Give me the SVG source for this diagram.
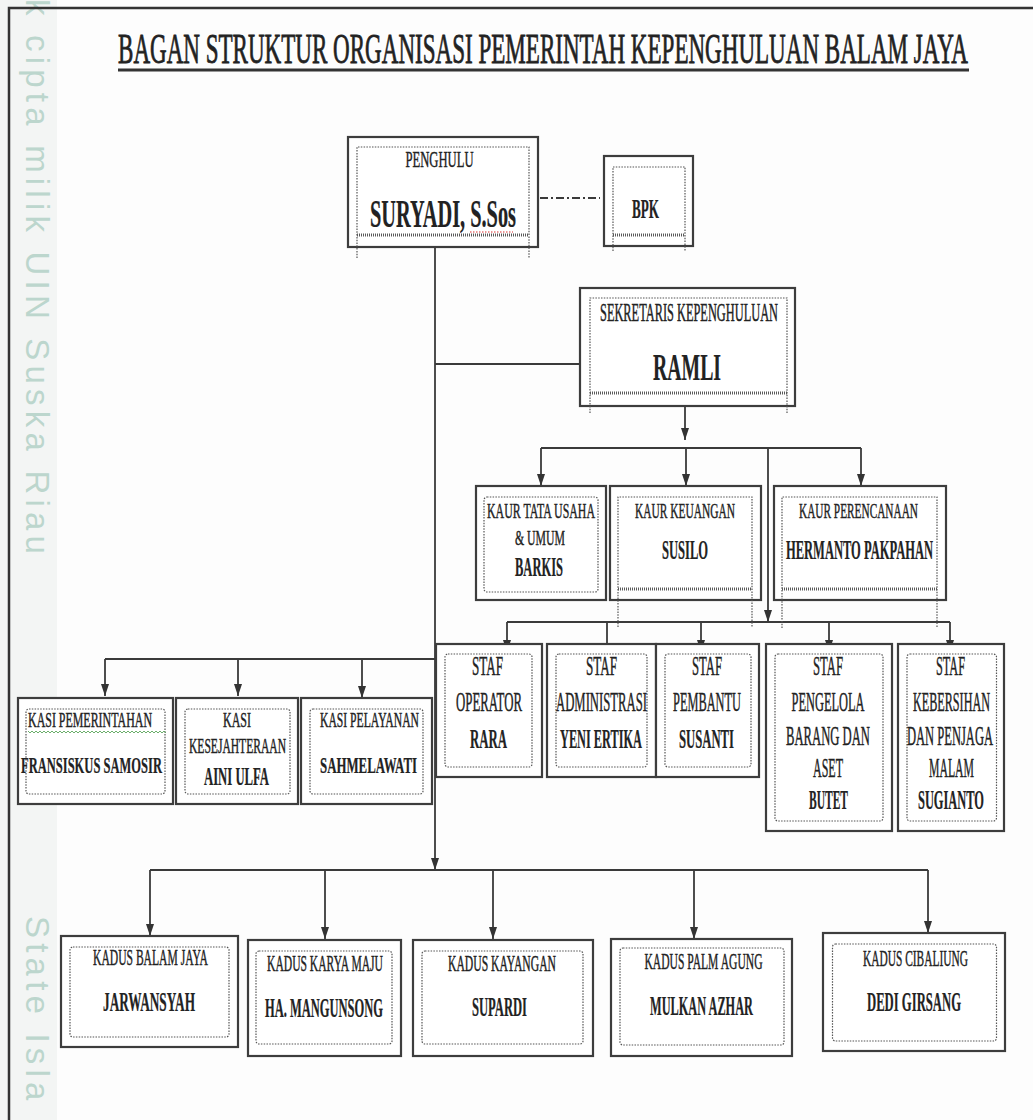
<svg xmlns="http://www.w3.org/2000/svg" width="1033" height="1120" viewBox="0 0 1033 1120">
<defs>
<marker id="ah" viewBox="0 0 12 8" refX="12" refY="4" markerWidth="12" markerHeight="8" orient="auto" markerUnits="userSpaceOnUse"><path d="M0,0 L12,4 L0,8 z" fill="#333"/></marker>
<style>
.ob{fill:#fff;stroke:#3d3d3d;stroke-width:2.2}
.ib{fill:none;stroke:#555;stroke-width:1.2;stroke-dasharray:1.5 1.3}
.dl{fill:none;stroke:#555;stroke-width:1.2;stroke-dasharray:1.5 1.3}
.hb{fill:none;stroke:#5a5a5a;stroke-width:3;stroke-dasharray:1 1}
.cn{fill:none;stroke:#3a3a3a;stroke-width:1.8}
.ar{marker-end:url(#ah)}
text{font-family:"Liberation Serif","Times New Roman",serif;fill:#222;stroke:#222;stroke-width:0.45px;text-anchor:middle}
.t{font-size:22px}
.s{font-size:21px}
.k{font-size:23px}
.f{font-size:27px}
.n{font-weight:bold;stroke-width:0.25px}
.wm{font-family:"Liberation Sans",Arial,sans-serif;fill:#bcd6cd;stroke:none;font-size:33px;text-anchor:start;letter-spacing:5.2px}
</style>
</defs>
<rect x="0" y="0" width="1033" height="1120" fill="#fdfdfd"/>
<rect x="0" y="0" width="57" height="1120" fill="#f3f5f4"/>
<text class="wm" transform="translate(26,-1) rotate(90)" x="0" y="0">k cipta milik UIN Suska Riau</text>
<text class="wm" transform="translate(26,916) rotate(90)" x="0" y="0">State Isla</text>
<path d="M9,1120 V8 H1033" fill="none" stroke="#333" stroke-width="2.5"/>

<g id="title">
<text transform="translate(543,63) scale(0.5,1)" style="font-size:42px;stroke-width:0.8px" textLength="1700" lengthAdjust="spacingAndGlyphs">BAGAN STRUKTUR ORGANISASI PEMERINTAH KEPENGHULUAN BALAM JAYA</text>
<line x1="118" y1="70" x2="969" y2="70" stroke="#333" stroke-width="3"/>
</g>

<g id="connectors">
<path class="cn" d="M540,198 H600" stroke-dasharray="8 3 2 3"/>
<path class="cn ar" d="M435,247 V870"/>
<path class="cn" d="M435,364 H580"/>
<path class="cn ar" d="M685,406 V440"/>
<path class="cn" d="M541,448 H861"/>
<path class="cn ar" d="M541,448 V486"/>
<path class="cn ar" d="M686,448 V486"/>
<path class="cn ar" d="M861,448 V486"/>
<path class="cn ar" d="M768,448 V622"/>
<path class="cn" d="M507,622 H950"/>
<path class="cn ar" d="M507,622 V652"/>
<path class="cn ar" d="M607,622 V656"/>
<path class="cn ar" d="M701,622 V652"/>
<path class="cn ar" d="M829,622 V652"/>
<path class="cn ar" d="M950,622 V652"/>
<path class="cn" d="M105,659 H435"/>
<path class="cn ar" d="M105,659 V696"/>
<path class="cn ar" d="M238,659 V696"/>
<path class="cn ar" d="M362,659 V698"/>
<path class="cn" d="M150,870 H928"/>
<path class="cn ar" d="M150,870 V936"/>
<path class="cn ar" d="M325,870 V939"/>
<path class="cn ar" d="M493,870 V939"/>
<path class="cn ar" d="M694,870 V939"/>
<path class="cn ar" d="M928,870 V933"/>
</g>

<g id="penghulu">
<rect class="ob" x="348" y="137" width="190" height="110"/>
<path class="dl" d="M357,258 V147 H529 V258"/>
<path class="hb" d="M357,235 H529"/>
<text transform="translate(439.5,167) scale(0.5,1)" style="font-size:24px" textLength="136" lengthAdjust="spacingAndGlyphs">PENGHULU</text>
<text class="n" transform="translate(443,227) scale(0.5,1)" style="font-size:40px" textLength="292" lengthAdjust="spacingAndGlyphs">SURYADI, S.Sos</text>
<path d="M470,232 H513" stroke="#d33" stroke-width="1.2" stroke-dasharray="1.5 1.5"/>
</g>

<g id="bpk">
<rect class="ob" x="604" y="156" width="89" height="90"/>
<path class="dl" d="M613,251 V167 H685 V251"/>
<path class="hb" d="M613,235 H685"/>
<text class="n" transform="translate(645.5,218) scale(0.5,1)" style="font-size:28px" textLength="54" lengthAdjust="spacingAndGlyphs">BPK</text>
</g>

<g id="sekretaris">
<rect class="ob" x="580" y="288" width="215" height="118"/>
<path class="dl" d="M590,413 V298 H787 V413"/>
<path class="hb" d="M590,393 H787"/>
<text transform="translate(689,321) scale(0.5,1)" style="font-size:25px" textLength="356" lengthAdjust="spacingAndGlyphs">SEKRETARIS KEPENGHULUAN</text>
<text class="n" transform="translate(687,380) scale(0.5,1)" style="font-size:38px" textLength="136" lengthAdjust="spacingAndGlyphs">RAMLI</text>
</g>

<g id="kaur-tu">
<rect class="ob" x="476" y="486" width="130" height="114"/>
<rect class="ib" x="484" y="497" width="114" height="95" rx="3"/>
<text class="t" transform="translate(541,518) scale(0.5,1)" textLength="216" lengthAdjust="spacingAndGlyphs">KAUR TATA USAHA</text>
<text class="t" transform="translate(540,545) scale(0.5,1)" textLength="100" lengthAdjust="spacingAndGlyphs">&amp; UMUM</text>
<text class="n" transform="translate(539,576) scale(0.5,1)" style="font-size:28px" textLength="96" lengthAdjust="spacingAndGlyphs">BARKIS</text>
</g>

<g id="kaur-keuangan">
<rect class="ob" x="610" y="486" width="151" height="114"/>
<path class="dl" d="M618,627 V497 H752 V627"/>
<path class="hb" d="M618,589 H752"/>
<text class="t" transform="translate(685,518) scale(0.5,1)" textLength="200" lengthAdjust="spacingAndGlyphs">KAUR KEUANGAN</text>
<text class="n f" transform="translate(685,559) scale(0.5,1)" textLength="92" lengthAdjust="spacingAndGlyphs">SUSILO</text>
</g>

<g id="kaur-perencanaan">
<rect class="ob" x="774" y="486" width="172" height="114"/>
<path class="dl" d="M782,628 V497 H937 V628"/>
<path class="hb" d="M782,589 H937"/>
<text class="t" transform="translate(858.5,518) scale(0.5,1)" textLength="238" lengthAdjust="spacingAndGlyphs">KAUR PERENCANAAN</text>
<text class="n f" transform="translate(859.5,559) scale(0.5,1)" textLength="294" lengthAdjust="spacingAndGlyphs">HERMANTO PAKPAHAN</text>
</g>

<g id="staf-operator">
<rect class="ob" x="436" y="644" width="106" height="133"/>
<rect class="ib" x="445" y="654" width="87" height="113" rx="3"/>
<text class="f" transform="translate(487.5,675) scale(0.5,1)" textLength="62" lengthAdjust="spacingAndGlyphs">STAF</text>
<text class="f" transform="translate(489,711) scale(0.5,1)" textLength="132" lengthAdjust="spacingAndGlyphs">OPERATOR</text>
<text class="n f" transform="translate(488.5,748) scale(0.5,1)" textLength="74" lengthAdjust="spacingAndGlyphs">RARA</text>
</g>

<g id="staf-administrasi">
<rect class="ob" x="547" y="644" width="109" height="133"/>
<rect class="ib" x="556" y="654" width="91" height="113" rx="3"/>
<text class="f" transform="translate(601.5,675) scale(0.5,1)" textLength="62" lengthAdjust="spacingAndGlyphs">STAF</text>
<text class="f" transform="translate(601.5,711) scale(0.5,1)" textLength="182" lengthAdjust="spacingAndGlyphs">ADMINISTRASI</text>
<text class="n f" transform="translate(601,748) scale(0.5,1)" textLength="164" lengthAdjust="spacingAndGlyphs">YENI ERTIKA</text>
</g>

<g id="staf-pembantu">
<rect class="ob" x="656" y="644" width="103" height="133"/>
<rect class="ib" x="665" y="654" width="86" height="113" rx="3"/>
<text class="f" transform="translate(707,675) scale(0.5,1)" textLength="60" lengthAdjust="spacingAndGlyphs">STAF</text>
<text class="f" transform="translate(707,711) scale(0.5,1)" textLength="136" lengthAdjust="spacingAndGlyphs">PEMBANTU</text>
<text class="n f" transform="translate(706.5,748) scale(0.5,1)" textLength="110" lengthAdjust="spacingAndGlyphs">SUSANTI</text>
</g>

<g id="staf-pengelola">
<rect class="ob" x="766" y="644" width="126" height="187"/>
<rect class="ib" x="775" y="654" width="108" height="167" rx="3"/>
<text class="f" transform="translate(828,675) scale(0.5,1)" textLength="60" lengthAdjust="spacingAndGlyphs">STAF</text>
<text class="f" transform="translate(828,711) scale(0.5,1)" textLength="146" lengthAdjust="spacingAndGlyphs">PENGELOLA</text>
<text class="f" transform="translate(828,745) scale(0.5,1)" textLength="168" lengthAdjust="spacingAndGlyphs">BARANG DAN</text>
<text class="f" transform="translate(828,777) scale(0.5,1)" textLength="60" lengthAdjust="spacingAndGlyphs">ASET</text>
<text class="n f" transform="translate(828.5,809) scale(0.5,1)" textLength="78" lengthAdjust="spacingAndGlyphs">BUTET</text>
</g>

<g id="staf-kebersihan">
<rect class="ob" x="898" y="644" width="106" height="187"/>
<rect class="ib" x="907" y="654" width="89.5" height="167" rx="3"/>
<text class="f" transform="translate(950.5,675) scale(0.5,1)" textLength="58" lengthAdjust="spacingAndGlyphs">STAF</text>
<text class="f" transform="translate(951.5,711) scale(0.5,1)" textLength="154" lengthAdjust="spacingAndGlyphs">KEBERSIHAN</text>
<text class="f" transform="translate(950,745) scale(0.5,1)" textLength="172" lengthAdjust="spacingAndGlyphs">DAN PENJAGA</text>
<text class="f" transform="translate(951.5,777) scale(0.5,1)" textLength="90" lengthAdjust="spacingAndGlyphs">MALAM</text>
<text class="n f" transform="translate(951,809) scale(0.5,1)" textLength="132" lengthAdjust="spacingAndGlyphs">SUGIANTO</text>
</g>

<g id="kasi-pemerintahan">
<rect class="ob" x="18" y="698" width="155" height="106"/>
<rect class="ib" x="26" y="709" width="139" height="85" rx="3"/>
<text class="s" transform="translate(90,727) scale(0.5,1)" textLength="248" lengthAdjust="spacingAndGlyphs">KASI  PEMERINTAHAN</text>
<path d="M28,731 l2,2 l2,-2 l2,2 l2,-2 l2,2 l2,-2 l2,2 l2,-2 l2,2 l2,-2 l2,2 l2,-2 l2,2 l2,-2 l2,2 l2,-2 l2,2 l2,-2 l2,2 l2,-2 l2,2 l2,-2 l2,2 l2,-2 l2,2 l2,-2 l2,2 l2,-2 l2,2 l2,-2 l2,2 l2,-2 l2,2 l2,-2 l2,2 l2,-2 l2,2 l2,-2 l2,2 l2,-2 l2,2 l2,-2 l2,2 l2,-2 l2,2 l2,-2 l2,2 l2,-2 l2,2 l2,-2 l2,2 l2,-2 l2,2 l2,-2 l2,2 l2,-2 l2,2 l2,-2 l2,2 l2,-2 l2,2 l2,-2 l2,2 l2,-2 l2,2 l2,-2 l2,2 l2,-2 l2,2" fill="none" stroke="#5aa55a" stroke-width="0.9"/>
<text class="n" transform="translate(91.5,773) scale(0.5,1)" style="font-size:24px" textLength="282" lengthAdjust="spacingAndGlyphs">FRANSISKUS SAMOSIR</text>
</g>

<g id="kasi-kesejahteraan">
<rect class="ob" x="176" y="698" width="122" height="106"/>
<rect class="ib" x="185" y="709" width="105" height="85" rx="3"/>
<text class="s" transform="translate(237,727) scale(0.5,1)" textLength="56" lengthAdjust="spacingAndGlyphs">KASI</text>
<text class="s" transform="translate(237.5,753) scale(0.5,1)" textLength="194" lengthAdjust="spacingAndGlyphs">KESEJAHTERAAN</text>
<text class="n" transform="translate(236.5,785) scale(0.5,1)" style="font-size:25px" textLength="130" lengthAdjust="spacingAndGlyphs">AINI ULFA</text>
</g>

<g id="kasi-pelayanan">
<rect class="ob" x="301" y="698" width="131" height="106"/>
<rect class="ib" x="310" y="709" width="113" height="85" rx="3"/>
<text class="s" transform="translate(369.5,727) scale(0.5,1)" textLength="198" lengthAdjust="spacingAndGlyphs">KASI PELAYANAN</text>
<text class="n" transform="translate(368.5,773) scale(0.5,1)" style="font-size:24px" textLength="194" lengthAdjust="spacingAndGlyphs">SAHMELAWATI</text>
</g>

<g id="kadus-balam-jaya">
<rect class="ob" x="61" y="936" width="177" height="111"/>
<rect class="ib" x="70" y="947" width="159" height="90" rx="3"/>
<text class="k" transform="translate(150.5,965) scale(0.5,1)" textLength="230" lengthAdjust="spacingAndGlyphs">KADUS BALAM JAYA</text>
<text class="n f" transform="translate(149,1011) scale(0.5,1)" textLength="184" lengthAdjust="spacingAndGlyphs">JARWANSYAH</text>
</g>

<g id="kadus-karya-maju">
<rect class="ob" x="248" y="940" width="153" height="116"/>
<rect class="ib" x="256" y="951" width="136" height="93" rx="3"/>
<text class="k" transform="translate(325,971) scale(0.5,1)" textLength="232" lengthAdjust="spacingAndGlyphs">KADUS KARYA MAJU</text>
<text class="n f" transform="translate(324,1017) scale(0.5,1)" textLength="236" lengthAdjust="spacingAndGlyphs">HA. MANGUNSONG</text>
</g>

<g id="kadus-kayangan">
<rect class="ob" x="413" y="940" width="180" height="116"/>
<rect class="ib" x="422" y="951" width="161" height="93" rx="3"/>
<text class="k" transform="translate(502,971) scale(0.5,1)" textLength="216" lengthAdjust="spacingAndGlyphs">KADUS KAYANGAN</text>
<text class="n f" transform="translate(499.5,1016) scale(0.5,1)" textLength="110" lengthAdjust="spacingAndGlyphs">SUPARDI</text>
</g>

<g id="kadus-palm-agung">
<rect class="ob" x="611" y="939" width="181" height="117"/>
<rect class="ib" x="620" y="948" width="164" height="97" rx="3"/>
<text class="k" transform="translate(703.5,969) scale(0.5,1)" textLength="236" lengthAdjust="spacingAndGlyphs">KADUS PALM AGUNG</text>
<text class="n f" transform="translate(701.5,1015) scale(0.5,1)" textLength="206" lengthAdjust="spacingAndGlyphs">MULKAN AZHAR</text>
</g>

<g id="kadus-cibaliung">
<rect class="ob" x="823" y="933" width="182" height="118"/>
<rect class="ib" x="832.5" y="944" width="164" height="97" rx="3"/>
<text class="k" transform="translate(915.5,966) scale(0.5,1)" textLength="210" lengthAdjust="spacingAndGlyphs">KADUS CIBALIUNG</text>
<text class="n f" transform="translate(914,1011) scale(0.5,1)" textLength="188" lengthAdjust="spacingAndGlyphs">DEDI GIRSANG</text>
</g>
</svg>
